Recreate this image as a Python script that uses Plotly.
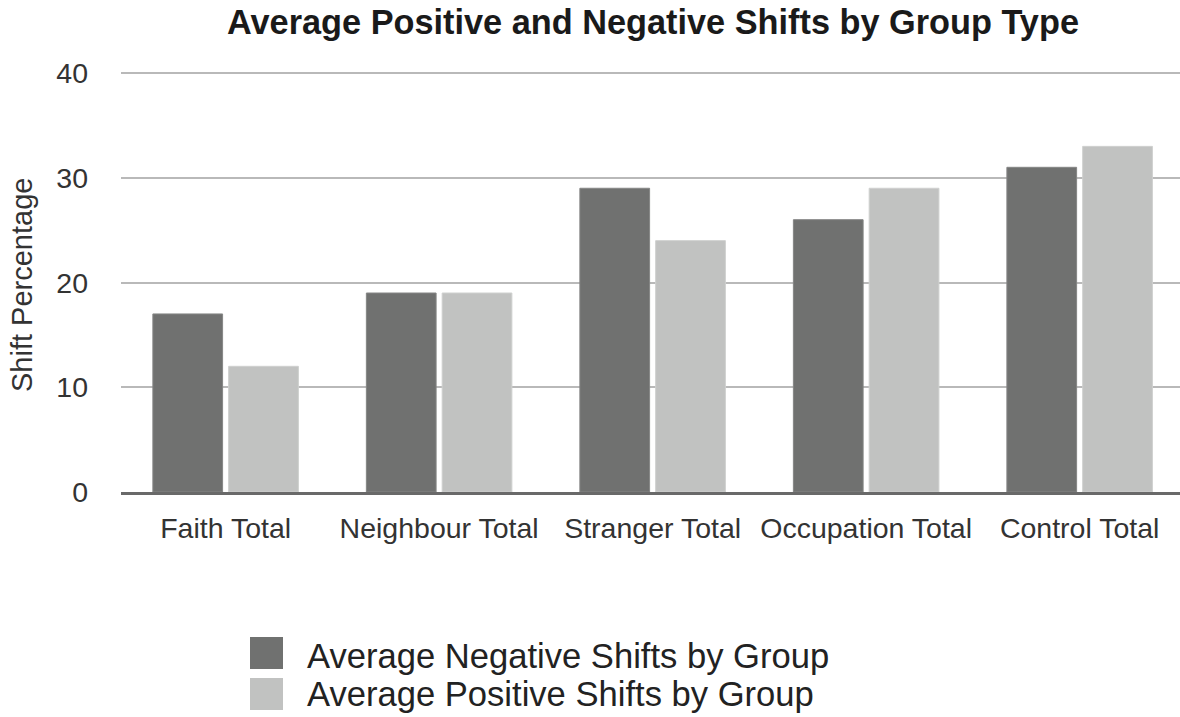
import plotly.graph_objects as go

# Group categories and the two shift series (percent)
categories = ["Faith Total", "Neighbour Total", "Stranger Total",
              "Occupation Total", "Control Total"]
negative_shifts = [17, 19, 29, 26, 31]
positive_shifts = [12, 19, 24, 29, 33]
series_names = ["Average Negative Shifts by Group",
                "Average Positive Shifts by Group"]
y_ticks = [0, 10, 20, 30, 40]

DARK = "#707170"
LIGHT = "#c1c2c1"
FONT = "Liberation Sans, Arial, Helvetica, sans-serif"

W, H = 1180, 717
ML, MR, MT, MB = 121, 0, 72, 225
PW, PH = W - ML - MR, H - MT - MB


def px_x(p):
    """Pixel x -> paper x."""
    return (p - ML) / PW


def px_y(p):
    """Pixel y (from top) -> paper y."""
    return (H - MB - p) / PH


fig = go.Figure()
fig.add_trace(go.Bar(x=categories, y=negative_shifts, name=series_names[0],
                     marker=dict(color=DARK, line=dict(color="#858685", width=1))))
fig.add_trace(go.Bar(x=categories, y=positive_shifts, name=series_names[1],
                     marker=dict(color=LIGHT, line=dict(color="#cfd0cf", width=1))))

# Legend drawn as swatches + labels below the plot
shapes = []
annotations = []
swatch_rows = [(637, 669, 656), (678, 710, 694)]
for (top, bot, mid), name, col in zip(swatch_rows, series_names, [DARK, LIGHT]):
    shapes.append(dict(type="rect", xref="paper", yref="paper",
                       x0=px_x(250), x1=px_x(283), y0=px_y(bot), y1=px_y(top),
                       fillcolor=col, line=dict(width=0)))
    annotations.append(dict(text=name, xref="paper", yref="paper",
                            x=px_x(305), y=px_y(mid), xanchor="left", yanchor="middle",
                            showarrow=False, font=dict(family=FONT, size=34.6, color="#222222")))

# Y axis title
annotations.append(dict(text="Shift Percentage", xref="paper", yref="paper",
                        x=px_x(22), y=px_y(285), textangle=-90,
                        xanchor="center", yanchor="middle", showarrow=False,
                        font=dict(family=FONT, size=29, color="#333333")))

fig.update_layout(
    width=W, height=H,
    margin=dict(l=ML, r=MR, t=MT, b=MB, pad=0),
    paper_bgcolor="white", plot_bgcolor="white",
    barmode="group", bargap=0.29, bargroupgap=0.08,
    showlegend=False,
    title=dict(text="<b>Average Positive and Negative Shifts by Group Type</b>",
               xref="container", yref="container",
               x=653 / W, y=1 - 22 / H, xanchor="center", yanchor="middle",
               font=dict(family=FONT, size=34.3, color="#1a1a1a")),
    xaxis=dict(range=[-0.49, 4.47], showgrid=False, zeroline=False,
               showline=True, linecolor="#696969", linewidth=3,
               ticks="", ticklabelstandoff=9,
               tickfont=dict(family=FONT, size=28.5, color="#333333")),
    yaxis=dict(range=[0, 40.1], tickvals=y_ticks, showgrid=True,
               gridcolor="#b9b9b9", gridwidth=2, zeroline=False,
               showline=False, ticks="", ticklabelstandoff=32,
               tickfont=dict(family=FONT, size=28.5, color="#333333")),
    shapes=shapes,
    annotations=annotations,
)

fig.write_html("out.html")
